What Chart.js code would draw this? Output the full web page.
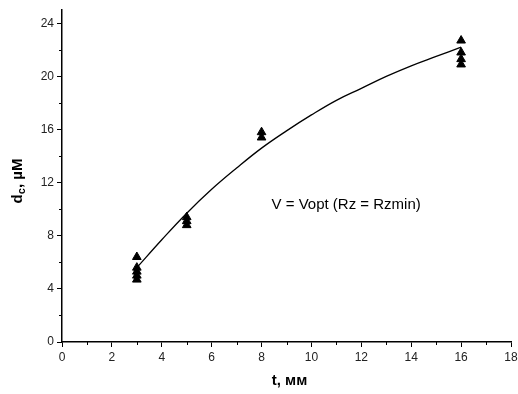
<!DOCTYPE html>
<html>
<head>
<meta charset="utf-8">
<script src="https://cdn.jsdelivr.net/npm/chart.js@4.4.1/dist/chart.umd.min.js"></script>
<style>
  html, body { margin: 0; padding: 0; background: #fff; }
  #wrap { width: 518px; height: 394px; }
</style>
</head>
<body>
<div id="wrap"><canvas id="chart" width="518" height="394"></canvas></div>
<script>
// measured points: thickness t (мм) vs d_c (µM)
const measT = [3, 3, 3, 3, 3, 5, 5, 5, 8, 8, 16, 16, 16, 16];
const measD = [6.4, 5.6, 5.3, 5.0, 4.7, 9.4, 9.1, 8.8, 15.8, 15.4, 22.7, 21.8, 21.3, 20.9];

// approximation curve
const fitT = [3, 4, 5, 6, 7, 8, 9, 10, 11, 12, 13, 14, 15, 16];
const fitD = [5.6, 7.7, 9.7, 11.5, 13.1, 14.6, 15.9, 17.1, 18.2, 19.1, 20.0, 20.8, 21.5, 22.2];

const xTicks = [0, 2, 4, 6, 8, 10, 12, 14, 16, 18];
const yTicks = [0, 4, 8, 12, 16, 20, 24];
const note = 'V = Vopt (Rz = Rzmin)';

const toXY = (xs, ys) => xs.map((x, i) => ({ x, y: ys[i] }));

// minor ticks, axis titles and the regime note
const extras = {
  id: 'extras',
  afterDraw(chart) {
    const { ctx, scales: { x, y }, chartArea: a } = chart;
    ctx.save();
    ctx.strokeStyle = '#000';
    ctx.lineWidth = 1;
    for (let v = 1; v < 18; v += 2) {
      const px = Math.round(x.getPixelForValue(v)) + 0.5;
      ctx.beginPath(); ctx.moveTo(px, a.bottom); ctx.lineTo(px, a.bottom + 3); ctx.stroke();
    }
    for (let v = 2; v < 25; v += 4) {
      const py = Math.round(y.getPixelForValue(v)) + 0.5;
      ctx.beginPath(); ctx.moveTo(a.left, py); ctx.lineTo(a.left - 3, py); ctx.stroke();
    }

    ctx.fillStyle = '#000';
    ctx.textBaseline = 'middle';

    // x title
    ctx.font = 'bold 15px "Liberation Sans", Arial, sans-serif';
    ctx.textAlign = 'center';
    ctx.fillText('t, мм', (a.left + a.right) / 2 + 3, 381);

    // y title with subscript
    ctx.translate(18, 181);
    ctx.rotate(-Math.PI / 2);
    ctx.textAlign = 'left';
    const big = 'bold 15px "Liberation Sans", Arial, sans-serif';
    const small = 'bold 11px "Liberation Sans", Arial, sans-serif';
    const parts = [['d', big, 0], ['c', small, 4], [', µM', big, 0]];
    let w = 0;
    parts.forEach(([t, f]) => { ctx.font = f; w += ctx.measureText(t).width; });
    let cx = -w / 2;
    parts.forEach(([t, f, dy]) => {
      ctx.font = f;
      ctx.fillText(t, cx, dy);
      cx += ctx.measureText(t).width;
    });
    ctx.restore();

    ctx.save();
    ctx.fillStyle = '#000';
    ctx.font = '15px "Liberation Sans", Arial, sans-serif';
    ctx.textBaseline = 'middle';
    ctx.textAlign = 'left';
    ctx.fillText(note, x.getPixelForValue(8.4), y.getPixelForValue(10.3));
    ctx.restore();
  }
};

new Chart(document.getElementById('chart'), {
  type: 'scatter',
  data: {
    datasets: [
      {
        type: 'line',
        data: toXY(fitT, fitD),
        borderColor: '#000',
        borderWidth: 1.3,
        pointRadius: 0,
        tension: 0.4,
        fill: false,
        order: 2
      },
      {
        data: toXY(measT, measD),
        pointStyle: 'triangle',
        pointRadius: 5,
        backgroundColor: '#000',
        borderColor: '#000',
        borderWidth: 1,
        order: 1
      }
    ]
  },
  options: {
    responsive: false,
    animation: false,
    layout: { padding: { top: 10, right: 7, left: 0, bottom: 0 } },
    plugins: { legend: { display: false }, tooltip: { enabled: false } },
    scales: {
      x: {
        type: 'linear',
        min: 0, max: 18,
        afterBuildTicks: s => { s.ticks = xTicks.map(v => ({ value: v })); },
        afterFit: s => { s.height = 52; s.paddingLeft = 0; s.paddingRight = 7; },
        border: { display: true, color: '#000', width: 1.5 },
        grid: { display: true, drawOnChartArea: false, drawTicks: true, tickLength: 5, color: '#000', tickWidth: 1 },
        ticks: { color: '#222', padding: 3, maxRotation: 0, font: { family: '"Liberation Sans", Arial, sans-serif', size: 12 } }
      },
      y: {
        type: 'linear',
        min: 0, max: 25,
        afterBuildTicks: s => { s.ticks = yTicks.map(v => ({ value: v })); },
        afterFit: s => { s.width = 62; s.paddingTop = 0; s.paddingBottom = 0; },
        border: { display: true, color: '#000', width: 1.5 },
        grid: { display: true, drawOnChartArea: false, drawTicks: true, tickLength: 5, color: '#000', tickWidth: 1 },
        ticks: { color: '#222', padding: 3, font: { family: '"Liberation Sans", Arial, sans-serif', size: 12 } }
      }
    }
  },
  plugins: [extras]
});
</script>
</body>
</html>
